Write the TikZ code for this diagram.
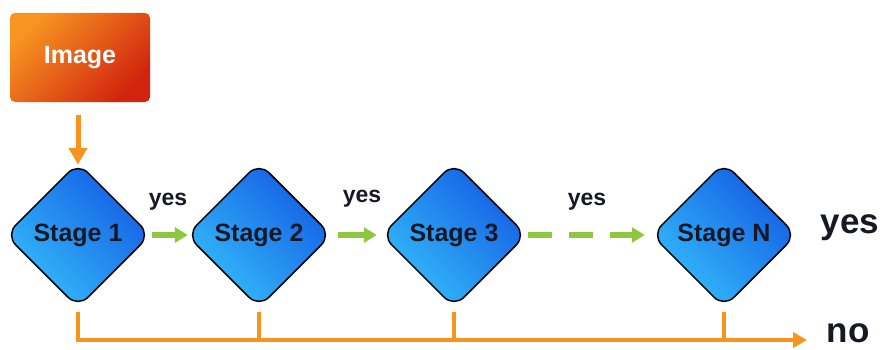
\documentclass[tikz,border=0pt]{standalone}
\usepackage{fontspec}
\setmainfont{Liberation Sans}
\usetikzlibrary{shapes.geometric,arrows.meta}
\definecolor{orln}{RGB}{247,148,30}
\definecolor{grln}{RGB}{141,198,63}
\definecolor{boxor}{RGB}{247,148,34}
\definecolor{boxred}{RGB}{210,36,14}
\definecolor{bdark}{RGB}{20,92,228}
\definecolor{blight}{RGB}{52,188,250}
\definecolor{txt}{RGB}{22,24,36}
\begin{document}
\begin{tikzpicture}[x=1pt,y=1pt,
  stagebox/.style={diamond, draw=black, line width=1.5pt, rounded corners=14pt,
    minimum width=145pt, minimum height=145pt, inner sep=0pt,
    top color=bdark, bottom color=blight, shading angle=-45,
    font=\fontsize{25}{29}\selectfont\bfseries, text=txt},
  imgbox/.style={rounded corners=5pt, minimum width=140pt, minimum height=89pt,
    top color=boxor, bottom color=boxred, shading angle=45,
    font=\fontsize{25}{30}\selectfont\bfseries, text=white},
  orline/.style={draw=orln, line width=4pt},
  orarrow/.style={draw=orln, line width=5pt, -{Triangle[length=17pt,width=18pt]}},
  grarrow/.style={draw=grln, line width=6pt, -{Triangle[length=13pt,width=15pt]}},
  smallyes/.style={anchor=base, text=txt, font=\fontsize{23}{28}\selectfont\bfseries},
  bigtxt/.style={anchor=base, text=txt, font=\fontsize{35}{40}\selectfont\bfseries}
]
\useasboundingbox (0,0) rectangle (882,349);

\node[imgbox] (img) at (80,291.5) {Image};

\node[stagebox] (s1) at (78,114) {Stage 1};
\node[stagebox] (s2) at (259,114) {Stage 2};
\node[stagebox] (s3) at (454,114) {Stage 3};
\node[stagebox] (sN) at (724,114) {Stage N};

\coordinate (endc) at (807,9);

% input arrow
\draw[orarrow, shorten <=13pt, shorten >=-3pt] (s1.north |- img.south) -- (s1.north);

% yes arrows
\draw[grarrow, shorten <=1pt, shorten >=-2pt] (s1.east) -- (s2.west);
\draw[grarrow, shorten <=6pt, shorten >=4pt] (s2.east) -- (s3.west);
\draw[grarrow, dash pattern=on 24pt off 17pt, shorten <=1pt, shorten >=6pt] (s3.east) -- (sN.west);

% no line
\draw[orline, -{Triangle[length=14pt,width=15pt]}, shorten <=4pt] (s1.south) |- (endc);
\draw[orline, shorten <=4pt] (s2.south) -- (s2.south |- endc);
\draw[orline, shorten <=4pt] (s3.south) -- (s3.south |- endc);
\draw[orline, shorten <=4pt] (sN.south) -- (sN.south |- endc);

% labels
\node[smallyes] (y1) at (168,144) {yes};
\node[smallyes] (y2) at (362,147) {yes};
\node[smallyes] (y3) at (587,144) {yes};
\node[bigtxt] (yesout) at (850,116) {yes};
\node[bigtxt] (noout) at (848,7) {no};
\end{tikzpicture}
\end{document}
